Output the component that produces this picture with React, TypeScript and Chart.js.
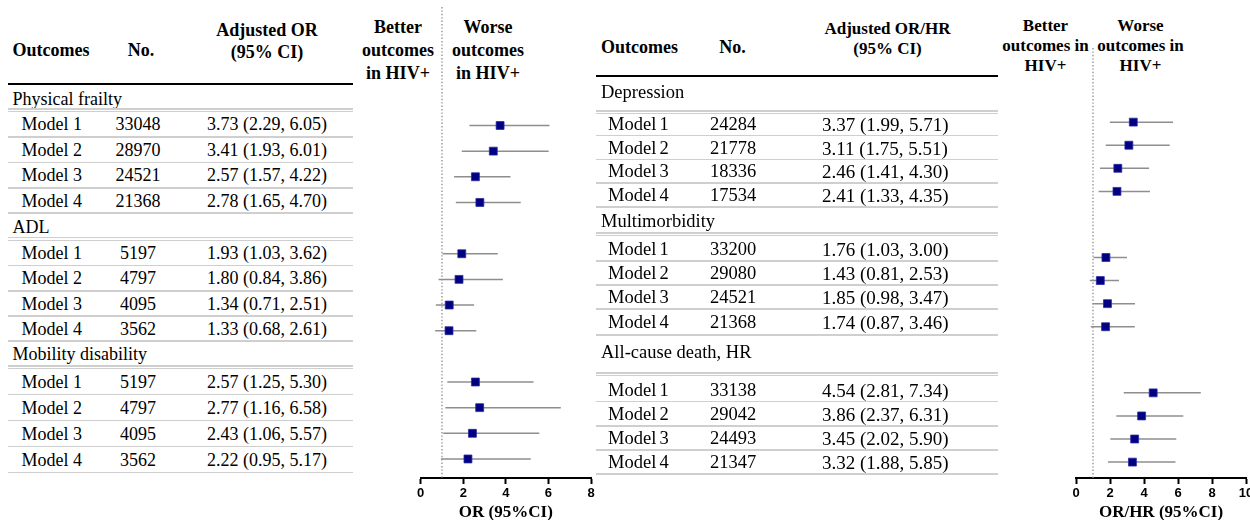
import React, { useEffect, useRef } from 'react';
import { Chart, registerables } from 'chart.js';
Chart.register(...registerables);

// ---------------- DATA ----------------
const models = ['Model 1', 'Model 2', 'Model 3', 'Model 4'];

const leftGroups = ['Physical frailty', 'ADL', 'Mobility disability'];
const leftN = [
  [33048, 28970, 24521, 21368],
  [5197, 4797, 4095, 3562],
  [5197, 4797, 4095, 3562],
];
const leftOR = [
  [3.73, 3.41, 2.57, 2.78],
  [1.93, 1.80, 1.34, 1.33],
  [2.57, 2.77, 2.43, 2.22],
];
const leftLo = [
  [2.29, 1.93, 1.57, 1.65],
  [1.03, 0.84, 0.71, 0.68],
  [1.25, 1.16, 1.06, 0.95],
];
const leftHi = [
  [6.05, 6.01, 4.22, 4.70],
  [3.62, 3.86, 2.51, 2.61],
  [5.30, 6.58, 5.57, 5.17],
];

const rightGroups = ['Depression', 'Multimorbidity', 'All-cause death, HR'];
const rightN = [
  [24284, 21778, 18336, 17534],
  [33200, 29080, 24521, 21368],
  [33138, 29042, 24493, 21347],
];
const rightOR = [
  [3.37, 3.11, 2.46, 2.41],
  [1.76, 1.43, 1.85, 1.74],
  [4.54, 3.86, 3.45, 3.32],
];
const rightLo = [
  [1.99, 1.75, 1.41, 1.33],
  [1.03, 0.81, 0.98, 0.87],
  [2.81, 2.37, 2.02, 1.88],
];
const rightHi = [
  [5.71, 5.51, 4.30, 4.35],
  [3.00, 2.53, 3.47, 3.46],
  [7.34, 6.31, 5.90, 5.85],
];

const leftTicksMax = 8;
const rightTicksMax = 10;
const leftAxisTitle = 'OR (95%CI)';
const rightAxisTitle = 'OR/HR (95%CI)';
const nullValue = 1;

// ---------------- LAYOUT ----------------
const serif = '"Liberation Serif", "Times New Roman", serif';
const sans = '"Liberation Sans", Arial, sans-serif';
const fmt = (v: number) => v.toFixed(2);

const LT = {
  x1: 8, x2: 353, thick: 84, groupX: 12.5, modelX: 21.5, nX: 138, orX: 207,
  fs: 18, orFs: 18, modelSpacing: 0,
  headerY: [99, 227, 354],
  dblY: [109, 237.5, 366],
  rowY: [[124, 149.5, 175, 200.5], [252.5, 278, 303.5, 329], [381.5, 407.5, 433.5, 459.5]],
  sepY: [[137, 162.5, 188, 213], [265.5, 291, 316, 341], [394.5, 420.5, 446.5, 472.5]],
};
const RT = {
  x1: 596, x2: 998, thick: 75.5, groupX: 601, modelX: 608, nX: 733, orX: 822,
  fs: 18.5, orFs: 19, modelSpacing: -1.5,
  headerY: [92, 221, 352],
  dblY: [111, 233, 373],
  rowY: [[124, 147.5, 171, 195], [249, 273, 297, 321.5], [390, 413.5, 438, 462]],
  sepY: [[135.5, 159.5, 183, 207], [261, 285, 309, 335], [401.5, 426, 450, 474]],
};

function Txt(props: any) {
  const { x, y, children, align = 'left', size = 18, bold = false, wordSpacing = 0 } = props;
  const style: any = {
    position: 'absolute', top: y, left: x, fontSize: size, fontWeight: bold ? 'bold' : 'normal',
    lineHeight: 1, whiteSpace: 'nowrap', fontFamily: serif, color: '#000', wordSpacing,
    transform: align === 'center' ? 'translate(-50%,-50%)' : 'translateY(-50%)',
  };
  return <div style={style}>{children}</div>;
}

function HLine(props: any) {
  const { x1, x2, y, color = '#cfcfcf', w = 1.5 } = props;
  return <div style={{ position: 'absolute', left: x1, top: y - w / 2, width: x2 - x1, height: w, background: color }} />;
}

function Table(props: any) {
  const { L, groups, n, or, lo, hi } = props;
  const items: any[] = [];
  items.push(<HLine key="thick" x1={L.x1} x2={L.x2} y={L.thick} color="#000" w={2} />);
  groups.forEach((gname: string, g: number) => {
    items.push(<Txt key={'h' + g} x={L.groupX} y={L.headerY[g]} size={L.fs}>{gname}</Txt>);
    items.push(<HLine key={'d1' + g} x1={L.x1} x2={L.x2} y={L.dblY[g]} w={1.2} />);
    items.push(<HLine key={'d2' + g} x1={L.x1} x2={L.x2} y={L.dblY[g] + 2.6} w={1.2} />);
    models.forEach((mname, m) => {
      const y = L.rowY[g][m];
      items.push(<Txt key={'m' + g + m} x={L.modelX} y={y} size={L.fs} wordSpacing={L.modelSpacing}>{mname}</Txt>);
      items.push(<Txt key={'n' + g + m} x={L.nX} y={y} size={L.fs} align="center">{String(n[g][m])}</Txt>);
      items.push(<Txt key={'o' + g + m} x={L.orX} y={y} size={L.orFs}>{`${fmt(or[g][m])} (${fmt(lo[g][m])}, ${fmt(hi[g][m])})`}</Txt>);
      items.push(<HLine key={'s' + g + m} x1={L.x1} x2={L.x2} y={L.sepY[g][m]} />);
    });
  });
  return <>{items}</>;
}

function Forest(props: any) {
  const { or, lo, hi, rowPos, yMin, yMax, xMax, title, refTop, left, width, padL, padR } = props;
  const ref = useRef<HTMLCanvasElement>(null);
  useEffect(() => {
    const pts: any[] = [];
    const ci: any[] = [];
    or.forEach((grp: number[], g: number) => grp.forEach((v: number, m: number) => {
      const y = rowPos(g, m);
      pts.push({ x: v, y });
      ci.push({
        data: [{ x: lo[g][m], y }, { x: hi[g][m], y }],
        showLine: true, borderColor: '#8e8e8e', borderWidth: 1.5, pointRadius: 0, order: 2,
      });
    }));
    const refPlugin = {
      id: 'refline',
      beforeDatasetsDraw(chart: any) {
        const x = chart.scales.x.getPixelForValue(nullValue);
        const c = chart.ctx;
        c.save();
        c.strokeStyle = '#9c9c9c';
        c.lineWidth = 1.5;
        c.setLineDash([1.4, 2]);
        c.beginPath();
        c.moveTo(x, refTop);
        c.lineTo(x, chart.chartArea.bottom);
        c.stroke();
        c.restore();
      },
    };
    const chart = new Chart(ref.current as HTMLCanvasElement, {
      type: 'scatter',
      data: {
        datasets: [
          { data: pts, pointStyle: 'rect', pointRadius: 5.6, backgroundColor: '#000080', borderColor: '#2b2ba6', borderWidth: 0.8, order: 0 } as any,
          ...ci,
        ],
      },
      options: {
        animation: false,
        responsive: false,
        layout: { padding: { left: padL, right: padR, top: 0, bottom: 0 } },
        plugins: { legend: { display: false }, tooltip: { enabled: false } },
        scales: {
          x: {
            type: 'linear', min: 0, max: xMax, position: 'bottom',
            ticks: { stepSize: 2, color: '#000', font: { family: sans, weight: 'bold', size: 13 }, padding: 2 },
            grid: { drawOnChartArea: false, drawTicks: true, tickLength: 6, color: '#000', tickWidth: 2 } as any,
            border: { display: true, color: '#000', width: 2 },
            title: { display: true, text: title, color: '#000', font: { family: serif, weight: 'bold', size: 17 }, padding: { top: 2, bottom: 1.5 } },
            afterFit: (s: any) => { s.height = 46; },
          } as any,
          y: { type: 'linear', display: false, min: yMin, max: yMax, reverse: true },
        },
      },
      plugins: [refPlugin],
    });
    return () => chart.destroy();
  }, []);
  return <canvas ref={ref} width={width} height={524} style={{ position: 'absolute', left, top: 0 }} />;
}

function HeadBlock(props: any) {
  const { x, ys, lines, size } = props;
  return <>{lines.map((t: string, i: number) => <Txt key={i} x={x} y={ys[i]} size={size} bold align="center">{t}</Txt>)}</>;
}

export default function App() {
  // chart area spans 0..478 px; rows mapped through the linear y scale
  const lMin = 1 - 120.7 / 26;
  const lMax = lMin + 478 / 26;
  const rMin = -117.3 / 23.4;
  const rMax = rMin + 478 / 23.4;
  return (
    <div style={{ position: 'fixed', left: 0, top: 0, width: 1250, height: 520, overflow: 'hidden', background: '#fff' }}>
      {/* left table header */}
      <Txt x={12.5} y={50} bold>Outcomes</Txt>
      <Txt x={141} y={50} bold align="center">No.</Txt>
      <Txt x={267} y={30} bold align="center">Adjusted OR</Txt>
      <Txt x={267} y={52} bold align="center">(95% CI)</Txt>
      <Table L={LT} groups={leftGroups} n={leftN} or={leftOR} lo={leftLo} hi={leftHi} />

      <HeadBlock x={398} ys={[27, 50, 73]} size={18} lines={['Better', 'outcomes', 'in HIV+']} />
      <HeadBlock x={488} ys={[27, 50, 73]} size={18} lines={['Worse', 'outcomes', 'in HIV+']} />
      <Forest or={leftOR} lo={leftLo} hi={leftHi} rowPos={(g: number, m: number) => g * 5 + m + 1}
        yMin={lMin} yMax={lMax} xMax={leftTicksMax} title={leftAxisTitle} refTop={7}
        left={400} width={200} padL={20.7} padR={9} />

      {/* right table header */}
      <Txt x={601} y={47} bold>Outcomes</Txt>
      <Txt x={732.5} y={47} bold align="center">No.</Txt>
      <Txt x={887.5} y={28} bold size={17} align="center">Adjusted OR/HR</Txt>
      <Txt x={887.5} y={48} bold size={17} align="center">(95% CI)</Txt>
      <Table L={RT} groups={rightGroups} n={rightN} or={rightOR} lo={rightLo} hi={rightHi} />

      <HeadBlock x={1045.5} ys={[25, 45, 65]} size={17} lines={['Better', 'outcomes in', 'HIV+']} />
      <HeadBlock x={1140.5} ys={[25, 45, 65]} size={17} lines={['Worse', 'outcomes in', 'HIV+']} />
      <Forest or={rightOR} lo={rightLo} hi={rightHi} rowPos={(g: number, m: number) => g * 5.863 + m}
        yMin={rMin} yMax={rMax} xMax={rightTicksMax} title={rightAxisTitle} refTop={48}
        left={1055} width={220} padL={21} padR={29} />
    </div>
  );
}
